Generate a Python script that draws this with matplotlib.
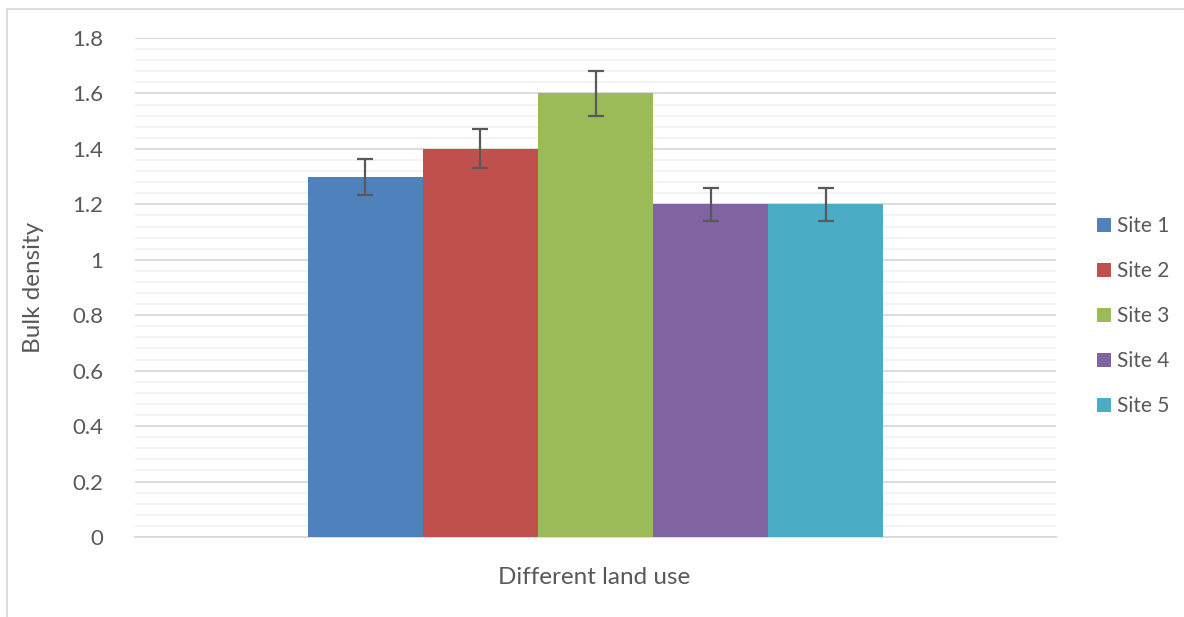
import matplotlib
matplotlib.use("Agg")
import matplotlib.pyplot as plt
from matplotlib.lines import Line2D
from matplotlib.patches import Patch
import numpy as np

plt.rcParams['font.family'] = ['Lato', 'DejaVu Sans']

series = ["Site 1", "Site 2", "Site 3", "Site 4", "Site 5"]
values = [1.3, 1.4, 1.6, 1.2, 1.2]
errors = [0.065, 0.07, 0.08, 0.06, 0.06]
colors = ["#4F81BD", "#C0504D", "#9BBB59", "#8064A2", "#4BACC6"]
yticks = [0, 0.2, 0.4, 0.6, 0.8, 1, 1.2, 1.4, 1.6, 1.8]
ytick_labels = ["0", "0.2", "0.4", "0.6", "0.8", "1", "1.2", "1.4", "1.6", "1.8"]

W, H = 1184, 617
fig = plt.figure(figsize=(W / 100, H / 100), dpi=100)
ax = fig.add_axes([135 / W, (H - 537) / H, (1056 - 135) / W, (537 - 38) / H])

txt = "#595959"
bw = 1 / 8
n = len(series)
for i, (s, v, e, c) in enumerate(zip(series, values, errors, colors)):
    x = (i - (n - 1) / 2) * bw
    ax.bar(x, v, width=bw, color=c, zorder=3, label=s)
    ax.errorbar(x, v, yerr=e, fmt="none", ecolor="#595959", elinewidth=1.6,
                capsize=5.5, capthick=1.6, zorder=4)

ax.set_xlim(-0.5, 0.5)
ax.set_ylim(0, 1.8)
ax.set_yticks(yticks)
ax.set_yticklabels(ytick_labels)
ax.set_yticks(np.arange(0, 1.8001, 0.04), minor=True)
ax.tick_params(axis="y", which="both", length=0, labelsize=16, labelcolor=txt, pad=23)
ax.tick_params(axis="x", which="both", length=0, labelbottom=False)
ax.set_xticks([])
ax.grid(axis="y", which="minor", color="#f2f2f2", linewidth=1.3, zorder=0)
ax.grid(axis="y", which="major", color="#d9d9d9", linewidth=1.3, zorder=1)
for sp in ["top", "right", "left"]:
    ax.spines[sp].set_visible(False)
ax.spines["bottom"].set_color("#d9d9d9")
ax.spines["bottom"].set_linewidth(1.3)

fig.text(33 / W, 1 - 287 / H, "Bulk density", rotation=90, ha="center", va="center",
         fontsize=17.5, color=txt)
fig.text(594 / W, 1 - 577 / H, "Different land use", ha="center", va="center",
         fontsize=17.5, color=txt)

handles = [Patch(facecolor=c, edgecolor="none") for c in colors]
leg = fig.legend(handles, series, loc="center left", bbox_to_anchor=(1087 / W, 1 - 316 / H),
                 frameon=False, fontsize=15, labelcolor=txt, handlelength=0.66,
                 handleheight=0.66, handletextpad=0.3, labelspacing=1.2, borderpad=0)

fig.add_artist(Line2D([7 / W, 7 / W], [0, 1 - 9 / H], transform=fig.transFigure,
                      color="#d9d9d9", linewidth=1.3))
fig.add_artist(Line2D([7 / W, 1], [1 - 9 / H, 1 - 9 / H], transform=fig.transFigure,
                      color="#d9d9d9", linewidth=1.3))

fig.savefig("out.png", dpi=100)
